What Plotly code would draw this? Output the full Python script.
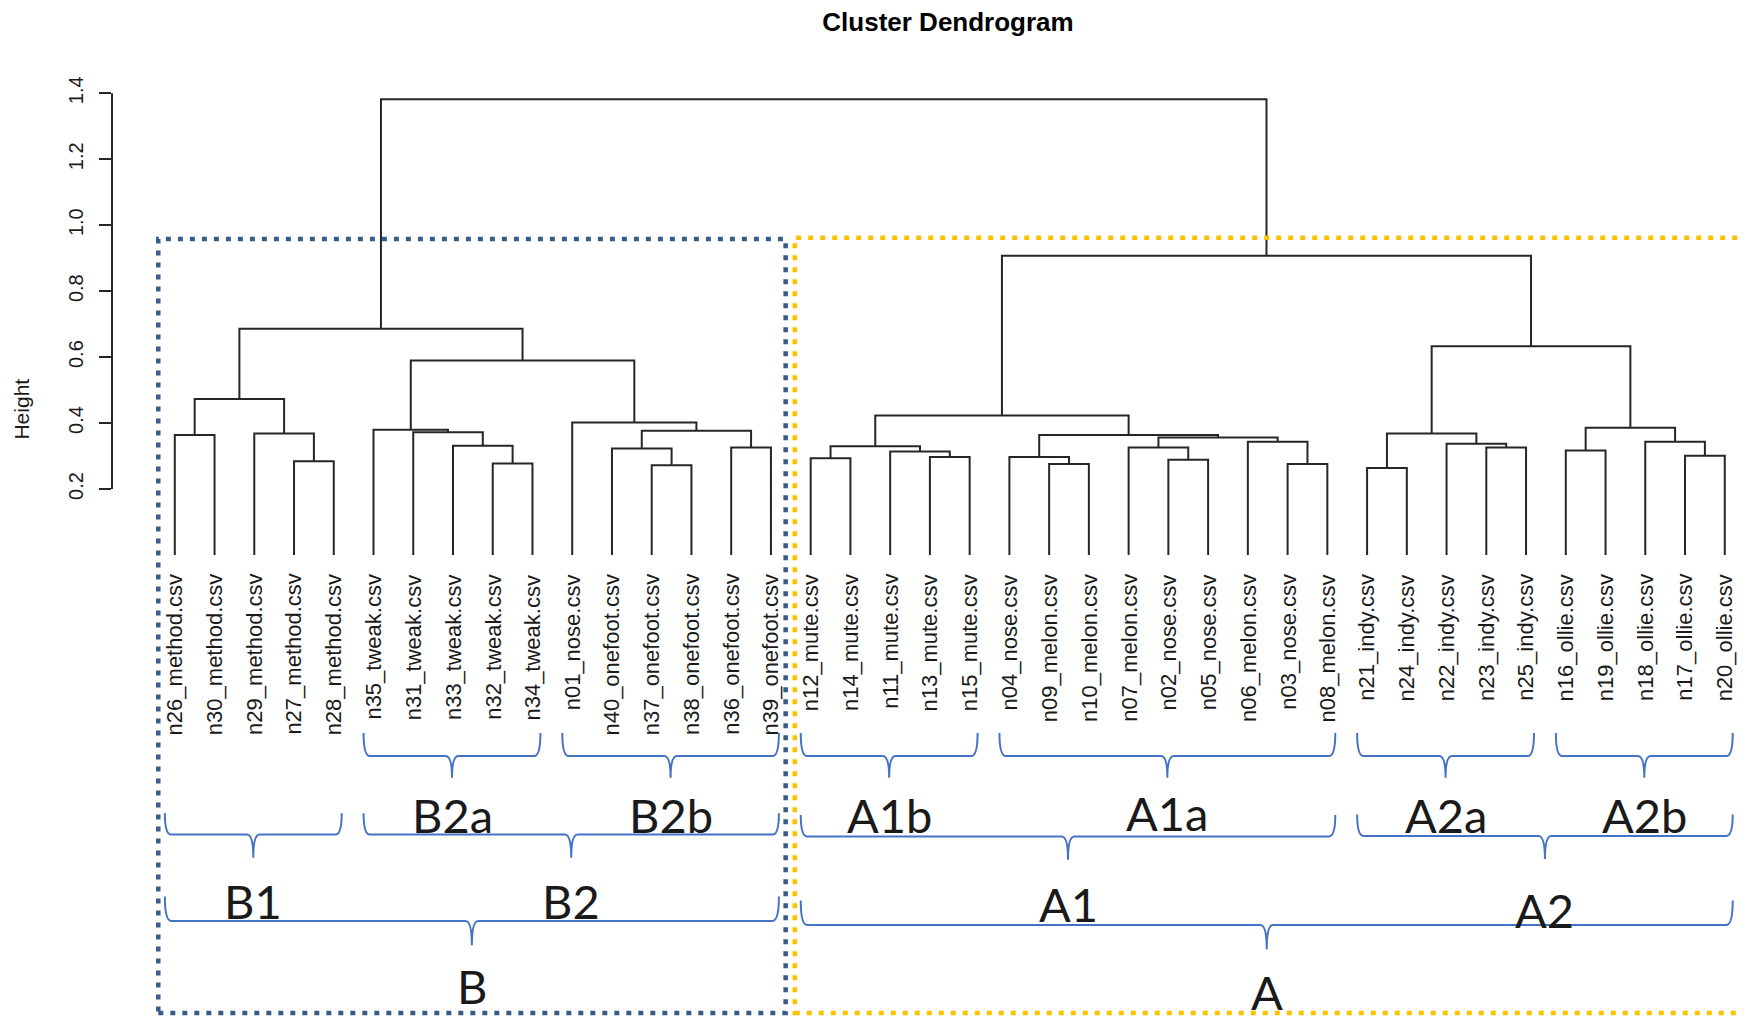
import plotly.graph_objects as go

# ---------------- data ----------------
labels = [
    "n26_method.csv", "n30_method.csv", "n29_method.csv", "n27_method.csv", "n28_method.csv",
    "n35_tweak.csv", "n31_tweak.csv", "n33_tweak.csv", "n32_tweak.csv", "n34_tweak.csv",
    "n01_nose.csv", "n40_onefoot.csv", "n37_onefoot.csv", "n38_onefoot.csv", "n36_onefoot.csv",
    "n39_onefoot.csv", "n12_mute.csv", "n14_mute.csv", "n11_mute.csv", "n13_mute.csv",
    "n15_mute.csv", "n04_nose.csv", "n09_melon.csv", "n10_melon.csv", "n07_melon.csv",
    "n02_nose.csv", "n05_nose.csv", "n06_melon.csv", "n03_nose.csv", "n08_melon.csv",
    "n21_indy.csv", "n24_indy.csv", "n22_indy.csv", "n23_indy.csv", "n25_indy.csv",
    "n16_ollie.csv", "n19_ollie.csv", "n18_ollie.csv", "n17_ollie.csv", "n20_ollie.csv",
]

# merges: strings = leaves, ints = earlier merge number (1-based)
merge_left = ["n27", "n26", "n29", 2,
              "n32", "n33", "n31", "n35",
              "n37", "n40", "n36", 10, "n01", 8, 4,
              "n12", "n13", "n11", 16,
              "n09", "n04", "n02", "n07", "n03", "n06", 23, 21, 19,
              "n21", "n23", "n22", 29,
              "n16", "n17", "n18", 33, 32, 28, 15]
merge_right = ["n28", "n30", 1, 3,
               "n34", 5, 6, 7,
               "n38", 9, "n39", 11, 12, 13, 14,
               "n14", "n15", 17, 18,
               "n10", 20, "n05", 22, "n08", 24, 25, 26, 27,
               "n24", "n25", 30, 31,
               "n19", "n20", 34, 35, 36, 37, 38]
merge_height = [0.284, 0.364, 0.368, 0.473,
                0.277, 0.331, 0.372, 0.380,
                0.272, 0.323, 0.326, 0.377, 0.402, 0.590, 0.686,
                0.293, 0.297, 0.314, 0.330,
                0.276, 0.297, 0.289, 0.326, 0.276, 0.343, 0.356, 0.364, 0.423,
                0.264, 0.326, 0.337, 0.368,
                0.317, 0.301, 0.343, 0.386, 0.633, 0.907, 1.382]

y_ticks = [0.2, 0.4, 0.6, 0.8, 1.0, 1.2, 1.4]
y_tick_text = ["0.2", "0.4", "0.6", "0.8", "1.0", "1.2", "1.4"]

# annotation groups: name, first leaf, last leaf, level
group_names = ["B2a", "B2b", "A1b", "A1a", "A2a", "A2b", "B1", "B2", "A1", "A2", "B", "A"]
group_first = ["n35", "n01", "n12", "n04", "n21", "n16", "n26", "n35", "n12", "n21", "n26", "n12"]
group_last = ["n34", "n39", "n15", "n08", "n25", "n20", "n28", "n39", "n08", "n20", "n39", "n20"]
group_level = [1, 1, 1, 1, 1, 1, 2, 2, 2, 2, 3, 3]

# ---------------- styles / layout constants ----------------
W, H = 1743, 1008          # page body has an 8px margin
LEAF_BOTTOM = 0.0
X_RANGE = [-1.580, 39.66]
Y_RANGE = [-1.3982, 1.6587]
LINE_COLOR = "#262626"
BRACE_COLOR = "#4472C4"
BLUE_BOX = "#385D8A"
GOLD_BOX = "#FFC000"
# per level: tip top, horizontal bar, point bottom, label centre (in height units)
LEVELS = {1: (-0.540, -0.610, -0.676, -0.788),
          2: (-0.783, -0.848, -0.918, -1.048),
          3: (-1.036, -1.110, -1.184, -1.306)}
LEVEL_SHIFT = {"A": -0.012, "A1": -0.006, "A2": -0.004}
LABEL_SHIFT = {"A1": -0.012, "A2": -0.030, "A": -0.018, "A1a": 0.006}
PAD_L, PAD_R = 0.25, 0.2

pos = {lab.split("_")[0]: i for i, lab in enumerate(labels)}

node_x, node_h = {}, {}


def child(c):
    if isinstance(c, str):
        return pos[c], LEAF_BOTTOM
    return node_x[c], node_h[c]


xs, ys = [], []
for k, (a, b, h) in enumerate(zip(merge_left, merge_right, merge_height), start=1):
    xa, ha = child(a)
    xb, hb = child(b)
    xs += [xa, xa, xb, xb, None]
    ys += [ha, h, h, hb, None]
    node_x[k] = (xa + xb) / 2
    node_h[k] = h

fig = go.Figure()
fig.add_trace(go.Scatter(x=xs, y=ys, mode="lines",
                         line=dict(color=LINE_COLOR, width=2),
                         hoverinfo="skip", showlegend=False))

shapes = []
annotations = []

# leaf labels
for i, lab in enumerate(labels):
    annotations.append(dict(x=i, y=-0.052, xref="x", yref="y", text=lab,
                            textangle=-90, showarrow=False, xanchor="center",
                            yanchor="top",
                            font=dict(family="Liberation Sans, Arial", size=22,
                                      color="#1a1a1a")))

# y axis line
shapes.append(dict(type="line", xref="paper", yref="y", x0=0, x1=0,
                   y0=y_ticks[0], y1=y_ticks[-1],
                   line=dict(color=LINE_COLOR, width=2)))

# dotted boxes
shapes.append(dict(type="rect", xref="x", yref="y",
                   x0=pos["n26"] - 0.415, x1=pos["n39"] + 0.37,
                   y0=-1.389, y1=0.958,
                   line=dict(color=BLUE_BOX, width=4.5, dash="5px,7px")))
shapes.append(dict(type="rect", xref="x", yref="y",
                   x0=pos["n12"] - 0.40, x1=pos["n20"] + 1.5,
                   y0=-1.389, y1=0.962,
                   line=dict(color=GOLD_BOX, width=4.5, dash="5px,7px")))

# braces with labels
r = 0.16
for name, f, l, lev in zip(group_names, group_first, group_last, group_level):
    xl = pos[f] - PAD_L
    xr = pos[l] + PAD_R
    xc = (xl + xr) / 2
    yt, ym, yp, ylab = LEVELS[lev]
    s = LEVEL_SHIFT.get(name, 0.0)
    yt, ym, yp = yt + s, ym + s, yp + s
    path = (f"M {xl},{yt} Q {xl},{ym} {xl + r},{ym} L {xc - r},{ym} "
            f"Q {xc},{ym} {xc},{yp} Q {xc},{ym} {xc + r},{ym} "
            f"L {xr - r},{ym} Q {xr},{ym} {xr},{yt}")
    shapes.append(dict(type="path", xref="x", yref="y", path=path,
                       line=dict(color=BRACE_COLOR, width=2)))
    annotations.append(dict(x=xc, y=ylab + LABEL_SHIFT.get(name, 0.0),
                            xref="x", yref="y", text=name,
                            showarrow=False, xanchor="center", yanchor="middle",
                            borderpad=0,
                            font=dict(family="Lato, Open Sans, sans-serif", size=47,
                                      color="#1a1a1a")))

# y axis title
annotations.append(dict(x=-0.0551, y=0.443, xref="paper", yref="y", text="Height",
                        textangle=-90, showarrow=False, xanchor="center",
                        yanchor="middle",
                        font=dict(family="Liberation Sans, Arial", size=21,
                                  color="#1a1a1a")))

fig.update_layout(
    width=W, height=H,
    margin=dict(l=104, r=0, t=0, b=0),
    paper_bgcolor="white", plot_bgcolor="white",
    title=dict(text="<b>Cluster Dendrogram</b>", x=940 / W, xanchor="center",
               y=1 - 14 / H, yanchor="middle", yref="container",
               font=dict(family="Liberation Sans, Arial", size=26, color="#000")),
    xaxis=dict(range=X_RANGE, visible=False, showgrid=False, zeroline=False),
    yaxis=dict(range=Y_RANGE, showgrid=False, zeroline=False, showline=False,
               tickmode="array", tickvals=y_ticks, ticktext=y_tick_text,
               ticks="outside", ticklen=12, tickwidth=2, tickcolor=LINE_COLOR,
               tickangle=-90, ticklabelstandoff=8,
               tickfont=dict(family="Liberation Sans, Arial", size=20,
                             color="#1a1a1a")),
    shapes=shapes,
    annotations=annotations,
)

fig.write_html("out.html")
